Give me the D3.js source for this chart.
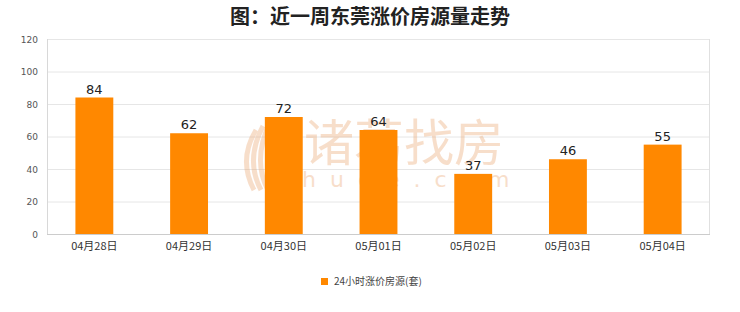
<!DOCTYPE html>
<html>
<head>
<meta charset="utf-8">
<script src="https://cdn.jsdelivr.net/npm/d3@7"></script>
<style>
  html, body { margin: 0; padding: 0; background: #fff; }
  svg { display: block; }
</style>
</head>
<body>
<svg id="chart" width="740" height="312"></svg>
<script>
// Daily counts of listings with a price increase over the last week
const categories = ["04月28日", "04月29日", "04月30日", "05月01日", "05月02日", "05月03日", "05月04日"];
const values = [84, 62, 72, 64, 37, 46, 55];
const yTicks = [0, 20, 40, 60, 80, 100, 120];
const titleText = "图：近一周东莞涨价房源量走势";
const seriesName = "24小时涨价房源(套)";

const svg = d3.select("#chart");
const W = 740, H = 312;
const margin = { left: 47, right: 30, top: 39, bottom: 78 };
const cjk = "'Noto Sans CJK SC', 'Noto Sans', sans-serif";

const x = d3.scaleBand()
  .domain(categories)
  .range([margin.left, W - margin.right])
  .paddingInner(0.6)
  .paddingOuter(0.3);

const y = d3.scaleLinear()
  .domain([0, 120])
  .range([H - margin.bottom, margin.top]);

// Title
svg.append("text")
  .attr("x", W / 2).attr("y", 24)
  .attr("text-anchor", "middle")
  .attr("font-family", cjk)
  .attr("font-weight", "bold")
  .attr("font-size", 20)
  .attr("fill", "#222")
  .text(titleText);

// Grid lines
svg.append("g")
  .selectAll("line")
  .data(yTicks)
  .join("line")
  .attr("x1", margin.left).attr("x2", W - margin.right)
  .attr("y1", d => y(d) + 0.5).attr("y2", d => y(d) + 0.5)
  .attr("stroke", "#e6e6e6");

// Frame on left and right
svg.append("line")
  .attr("x1", margin.left + 0.5).attr("x2", margin.left + 0.5)
  .attr("y1", y(120)).attr("y2", y(0))
  .attr("stroke", "#d8d8d8");
svg.append("line")
  .attr("x1", W - margin.right - 0.5).attr("x2", W - margin.right - 0.5)
  .attr("y1", y(120)).attr("y2", y(0))
  .attr("stroke", "#e0e0e0");

// Watermark behind the bars
const wm = svg.append("g").attr("opacity", 0.35);
wm.append("text")
  .attr("x", 404).attr("y", 161)
  .attr("text-anchor", "middle")
  .attr("font-family", cjk)
  .attr("font-size", 50)
  .attr("fill", "#eba36b")
  .text("诸葛找房");
wm.append("text")
  .attr("x", 400).attr("y", 187)
  .attr("text-anchor", "middle")
  .attr("font-family", "'DejaVu Sans', sans-serif")
  .attr("font-size", 22)
  .attr("letter-spacing", 14)
  .attr("fill", "#eba36b")
  .text("zhuge.com");
// Feather-like logo mark
const logo = wm.append("g").attr("fill", "none").attr("stroke", "#eba36b").attr("stroke-width", 5);
[[250, 0], [257, 1], [264, 2]].forEach(([cx, i]) => {
  logo.append("path")
    .attr("d", `M${cx + 6},${130 - i * 4} Q${cx - 12},${160} ${cx + 4},${190}`);
});

// Y axis labels
svg.append("g")
  .selectAll("text")
  .data(yTicks)
  .join("text")
  .attr("x", 38).attr("y", d => y(d) + 3.5)
  .attr("text-anchor", "end")
  .attr("font-family", "'DejaVu Sans', sans-serif")
  .attr("font-size", 9)
  .attr("fill", "#555")
  .text(d => d);

// Bars
svg.append("g")
  .selectAll("rect")
  .data(values)
  .join("rect")
  .attr("x", (d, i) => x(categories[i]))
  .attr("y", d => y(d))
  .attr("width", x.bandwidth())
  .attr("height", d => y(0) - y(d))
  .attr("fill", "#ff8800");

// Value labels
svg.append("g")
  .selectAll("text")
  .data(values)
  .join("text")
  .attr("x", (d, i) => x(categories[i]) + x.bandwidth() / 2)
  .attr("y", d => y(d) - 4)
  .attr("text-anchor", "middle")
  .attr("font-family", "'DejaVu Sans', sans-serif")
  .attr("font-size", 13)
  .attr("fill", "#222")
  .text(d => d);

// Bottom axis line
svg.append("line")
  .attr("x1", margin.left).attr("x2", W - margin.right)
  .attr("y1", y(0) + 0.5).attr("y2", y(0) + 0.5)
  .attr("stroke", "#ccc");

// X axis labels
svg.append("g")
  .selectAll("text")
  .data(categories)
  .join("text")
  .attr("x", d => x(d) + x.bandwidth() / 2)
  .attr("y", 250)
  .attr("text-anchor", "middle")
  .attr("font-family", cjk)
  .attr("font-size", 11)
  .attr("fill", "#333")
  .text(d => d);

// Legend
const lg = svg.append("g");
lg.append("rect")
  .attr("x", 321).attr("y", 278)
  .attr("width", 7).attr("height", 7)
  .attr("fill", "#ff8800");
lg.append("text")
  .attr("x", 334).attr("y", 285)
  .attr("font-family", cjk)
  .attr("font-size", 10)
  .attr("fill", "#444")
  .text(seriesName);
</script>
</body>
</html>
